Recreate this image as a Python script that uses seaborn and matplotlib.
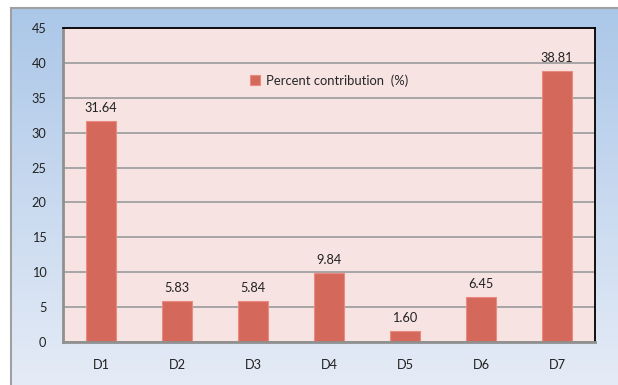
import numpy as np
import pandas as pd
import seaborn as sns
import matplotlib.pyplot as plt

categories = ['D1', 'D2', 'D3', 'D4', 'D5', 'D6', 'D7']
percent = [31.64, 5.83, 5.84, 9.84, 1.60, 6.45, 38.81]
series_name = 'Percent contribution  (%)'

df = pd.DataFrame({'factor': categories, 'value': percent})

sns.set_style('white')
plt.rcParams['font.family'] = ['Lato', 'DejaVu Sans']

bar_color = '#d4695b'
fig = plt.figure(figsize=(6.18, 3.85), dpi=100)

# outer chart area with blue gradient (runs off the right and bottom edge)
bg = fig.add_axes([11 / 618, -0.05, 1.05, 1 - 8 / 385 + 0.05])
top = np.array([0.67, 0.78, 0.91])
bot = np.array([0.91, 0.93, 0.97])
t = np.linspace(0, 1, 256)[:, None]
grad = top * (1 - t) + bot * t
bg.imshow(grad[:, None, :].repeat(2, axis=1), aspect='auto', extent=[0, 1, 0, 1])
bg.set_xticks([])
bg.set_yticks([])
for s in bg.spines.values():
    s.set_color('#a0a0a0')
    s.set_linewidth(1.5)

ax = fig.add_axes([63 / 618, 1 - 342 / 385, 532 / 618, 314 / 385])
ax.set_facecolor('#f7e3e2')
sns.barplot(data=df, x='factor', y='value', color=bar_color, width=0.4,
            edgecolor='#ea8a80', linewidth=0.8, label=series_name, ax=ax,
            saturation=1)
ax.set_ylim(0, 45)
ax.set_yticks(range(0, 46, 5))
ax.set_xlim(-0.5, 6.5)
ax.yaxis.grid(True, color='#a0a0a0', linewidth=1.3)
ax.set_axisbelow(True)
ax.set_xlabel('')
ax.set_ylabel('')
ax.tick_params(axis='both', length=0, labelsize=9.2, colors='#222222')
ax.tick_params(axis='y', pad=12)
ax.tick_params(axis='x', pad=12)
for side in ['top', 'right']:
    ax.spines[side].set_color('black')
    ax.spines[side].set_linewidth(1.3)
for side in ['left', 'bottom']:
    ax.spines[side].set_color('#909090')
    ax.spines[side].set_linewidth(2)

for i, v in enumerate(percent):
    ax.annotate(f'{v:.2f}', (i, v), xytext=(0, 5), textcoords='offset points',
                ha='center', va='bottom', fontsize=9.2, color='#222222')

leg = ax.legend(loc='upper center', bbox_to_anchor=(0.5, 0.89), frameon=False,
                fontsize=9.4, handlelength=0.8, handleheight=0.8, handletextpad=0.4)

fig.savefig('out.png', dpi=100)
